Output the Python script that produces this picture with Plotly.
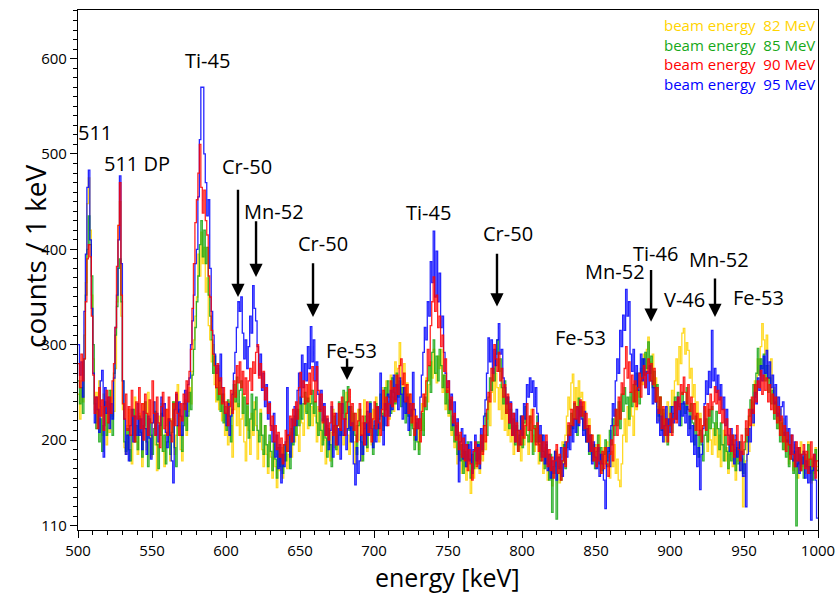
import plotly.graph_objects as go

# ---------------- data (counts per 1 keV bin, bins start at 500 keV) ----------------
E0 = 500

counts_82 = [
    248, 222, 262, 240, 310, 365, 448, 475, 420, 352,
    285, 232, 250, 218, 262, 235, 205, 248, 228, 195,
    240, 208, 252, 225, 230, 275, 345, 425, 450, 330,
    232, 192, 185, 215, 232, 190, 175, 222, 245, 198,
    185, 228, 205, 172, 238, 212, 190, 250, 205, 182,
    218, 240, 195, 168, 225, 205, 238, 188, 172, 215,
    232, 198, 178, 222, 240, 185, 205, 258, 215, 190,
    178, 225, 242, 205, 230, 255, 238, 272, 305, 330,
    350, 395, 372, 418, 385, 402, 355, 370, 320, 305,
    282, 300, 258, 240, 275, 232, 255, 220, 248, 205,
    228, 195, 240, 215, 182, 232, 250, 215, 238, 205,
    222, 248, 198, 178, 235, 210, 185, 228, 205, 240,
    215, 180, 205, 232, 190, 172, 215, 185, 165, 198,
    182, 160, 195, 172, 150, 185, 168, 192, 160, 178,
    195, 170, 185, 208, 182, 215, 198, 230, 205, 188,
    240, 218, 205, 245, 230, 212, 258, 235, 215, 240,
    225, 198, 235, 210, 188, 222, 200, 175, 215, 195,
    178, 208, 232, 192, 215, 185, 205, 238, 210, 195,
    222, 250, 205, 185, 230, 212, 198, 175, 215, 232,
    200, 178, 218, 242, 205, 188, 225, 210, 195, 232,
    212, 245, 220, 198, 238, 255, 215, 232, 262, 240,
    222, 268, 245, 230, 282, 255, 275, 302, 265, 248,
    280, 238, 260, 225, 248, 215, 238, 200, 225, 212,
    190, 222, 238, 210, 248, 265, 240, 258, 282, 265,
    295, 270, 260, 288, 275, 295, 250, 268, 232, 255,
    225, 240, 205, 218, 192, 210, 175, 198, 185, 165,
    190, 172, 158, 185, 168, 144, 178, 160, 192, 170,
    185, 165, 198, 178, 205, 190, 222, 240, 215, 250,
    262, 240, 270, 255, 232, 258, 222, 245, 210, 232,
    205, 225, 198, 215, 185, 208, 220, 190, 202, 178,
    212, 195, 225, 205, 185, 218, 232, 205, 188, 215,
    198, 175, 205, 185, 165, 192, 178, 158, 185, 170,
    152, 178, 165, 190, 172, 155, 182, 198, 175, 205,
    225, 245, 232, 260, 269, 240, 255, 232, 262, 245,
    250, 225, 240, 212, 198, 222, 190, 205, 178, 195,
    172, 188, 205, 180, 165, 192, 175, 198, 182, 160,
    188, 172, 195, 165, 180, 158, 151, 175, 205, 222,
    198, 235, 215, 245, 225, 205, 252, 232, 268, 245,
    275, 258, 290, 268, 295, 308, 282, 262, 290, 255,
    265, 235, 220, 245, 210, 228, 198, 215, 240, 205,
    220, 252, 235, 262, 285, 258, 298, 280, 312, 317,
    290, 302, 294, 265, 275, 245, 258, 222, 240, 210,
    228, 198, 215, 235, 205, 188, 222, 200, 185, 212,
    195, 218, 182, 205, 172, 195, 210, 178, 192, 165,
    185, 200, 172, 190, 158, 178, 195, 168, 182, 130,
    162, 178, 205, 188, 225, 240, 215, 262, 248, 285,
    270, 298, 322, 305, 290, 310, 278, 262, 285, 242,
    255, 228, 245, 212, 232, 205, 222, 190, 212, 198,
    175, 205, 188, 168, 195, 178, 160, 185, 198, 172,
    188, 165, 180, 198, 170, 155, 182, 165, 192, 172,
]

counts_85 = [
    262, 238, 255, 228, 285, 352, 400, 435, 405, 372,
    300, 238, 212, 232, 198, 222, 188, 215, 240, 205,
    218, 252, 228, 205, 270, 310, 340, 380, 390, 345,
    262, 198, 188, 212, 190, 178, 205, 232, 198, 215,
    190, 225, 208, 182, 215, 240, 198, 172, 222, 205,
    185, 212, 230, 195, 170, 205, 228, 188, 205, 175,
    198, 222, 185, 208, 240, 192, 172, 215, 232, 205,
    188, 215, 238, 210, 225, 250, 232, 268, 295, 318,
    345, 372, 405, 430, 392, 420, 385, 402, 352, 330,
    305, 270, 288, 255, 242, 262, 230, 248, 218, 235,
    210, 242, 225, 198, 232, 258, 240, 266, 235, 252,
    262, 228, 245, 215, 238, 202, 222, 248, 210, 232,
    245, 210, 198, 228, 205, 185, 215, 195, 172, 205,
    188, 168, 198, 180, 160, 192, 172, 185, 165, 195,
    178, 205, 188, 170, 212, 195, 225, 205, 232, 215,
    245, 222, 238, 250, 228, 244, 215, 238, 252, 228,
    240, 218, 205, 232, 210, 195, 225, 202, 182, 212,
    195, 172, 208, 225, 190, 215, 240, 205, 228, 252,
    222, 240, 256, 210, 235, 198, 228, 205, 185, 215,
    232, 198, 178, 212, 225, 192, 218, 240, 205, 185,
    215, 238, 205, 222, 248, 228, 210, 255, 232, 262,
    245, 228, 265, 250, 238, 270, 245, 262, 235, 255,
    240, 218, 248, 225, 205, 232, 212, 190, 218, 198,
    185, 210, 228, 205, 245, 232, 262, 278, 250, 292,
    305, 270, 288, 262, 295, 278, 255, 268, 238, 252,
    228, 242, 210, 225, 198, 215, 185, 205, 178, 195,
    165, 188, 172, 198, 180, 160, 185, 170, 192, 175,
    198, 180, 205, 188, 215, 228, 205, 245, 265, 252,
    275, 262, 290, 305, 272, 285, 255, 238, 262, 228,
    245, 212, 232, 205, 222, 195, 215, 188, 205, 225,
    192, 218, 235, 205, 198, 225, 210, 185, 215, 198,
    225, 195, 178, 205, 188, 170, 195, 175, 158, 185,
    124, 172, 188, 117, 165, 182, 158, 178, 195, 170,
    192, 215, 205, 228, 212, 238, 222, 205, 244, 225,
    235, 210, 228, 198, 215, 185, 205, 178, 195, 170,
    188, 205, 175, 192, 168, 185, 200, 172, 188, 210,
    195, 222, 205, 232, 215, 240, 212, 248, 230, 255,
    238, 245, 222, 250, 235, 258, 240, 270, 252, 238,
    262, 285, 268, 292, 275, 303, 270, 288, 255, 272,
    240, 258, 225, 245, 210, 232, 205, 222, 195, 215,
    235, 208, 228, 245, 222, 250, 235, 215, 250, 238,
    228, 255, 232, 212, 238, 218, 195, 225, 205, 182,
    210, 195, 178, 205, 222, 198, 232, 212, 235, 218,
    205, 230, 212, 190, 218, 195, 178, 205, 188, 170,
    195, 178, 205, 185, 168, 192, 175, 198, 180, 165,
    190, 212, 198, 225, 242, 228, 258, 245, 270, 296,
    268, 285, 275, 290, 262, 278, 250, 265, 238, 252,
    222, 240, 212, 228, 198, 218, 190, 208, 182, 200,
    172, 195, 180, 165, 188, 110, 175, 192, 168, 182,
    160, 185, 172, 195, 165, 180, 158, 178, 190, 168,
]

counts_90 = [
    280, 255, 290, 262, 285, 345, 390, 405, 392, 330,
    268, 228, 245, 212, 255, 225, 242, 210, 235, 252,
    218, 245, 228, 262, 280, 318, 382, 425, 470, 352,
    238, 222, 248, 210, 235, 205, 252, 225, 198, 240,
    222, 255, 212, 238, 200, 248, 228, 205, 242, 218,
    262, 228, 205, 245, 218, 192, 235, 250, 212, 232,
    205, 245, 220, 198, 238, 215, 250, 228, 205, 238,
    220, 248, 232, 262, 240, 272, 295, 338, 385, 428,
    452, 480, 510, 465, 438, 462, 430, 415, 372, 350,
    315, 290, 278, 255, 280, 248, 265, 238, 255, 228,
    240, 215, 235, 252, 228, 262, 245, 278, 260, 282,
    255, 272, 248, 265, 238, 262, 275, 252, 282, 270,
    292, 300, 265, 280, 255, 272, 242, 255, 228, 238,
    210, 225, 198, 215, 190, 208, 182, 202, 175, 195,
    210, 188, 205, 225, 198, 232, 215, 240, 222, 255,
    271, 245, 262, 238, 258, 240, 270, 248, 277, 262,
    240, 277, 252, 230, 248, 218, 235, 205, 225, 200,
    218, 240, 205, 228, 195, 215, 238, 210, 245, 222,
    205, 228, 240, 253, 215, 238, 210, 228, 198, 220,
    238, 205, 225, 195, 218, 240, 208, 228, 198, 222,
    240, 212, 235, 218, 205, 232, 252, 225, 245, 215,
    238, 262, 235, 255, 240, 268, 248, 278, 285, 258,
    270, 240, 258, 228, 248, 218, 238, 205, 225, 212,
    222, 198, 230, 248, 235, 262, 295, 278, 320, 345,
    371, 335, 352, 318, 330, 298, 310, 272, 285, 250,
    262, 232, 245, 218, 228, 200, 218, 190, 208, 182,
    202, 178, 195, 168, 190, 175, 158, 188, 198, 172,
    192, 175, 205, 185, 215, 198, 232, 250, 240, 275,
    262, 300, 285, 272, 292, 262, 275, 245, 258, 228,
    248, 218, 238, 205, 228, 198, 218, 188, 210, 195,
    225, 202, 215, 238, 210, 225, 198, 232, 212, 195,
    218, 188, 205, 178, 198, 182, 205, 172, 190, 168,
    182, 160, 178, 195, 165, 185, 158, 178, 192, 172,
    198, 218, 205, 232, 215, 240, 222, 235, 218, 242,
    225, 240, 212, 228, 198, 215, 188, 205, 178, 192,
    172, 195, 178, 165, 188, 170, 192, 175, 162, 185,
    200, 178, 215, 232, 205, 245, 222, 260, 248, 275,
    298, 265, 282, 250, 268, 240, 262, 235, 255, 270,
    245, 265, 278, 255, 270, 285, 262, 280, 258, 275,
    240, 255, 228, 245, 212, 235, 205, 222, 198, 215,
    228, 205, 222, 240, 218, 245, 232, 258, 248, 266,
    250, 238, 258, 230, 245, 222, 238, 210, 228, 205,
    222, 198, 215, 235, 210, 238, 225, 248, 232, 240,
    256, 238, 252, 228, 245, 218, 232, 205, 222, 195,
    212, 188, 205, 182, 200, 215, 190, 178, 205, 185,
    198, 220, 205, 232, 215, 245, 228, 258, 240, 262,
    255, 273, 248, 268, 252, 265, 240, 258, 232, 248,
    228, 245, 218, 235, 205, 225, 198, 215, 188, 208,
    195, 180, 205, 185, 172, 198, 178, 192, 168, 185,
    195, 170, 188, 165, 180, 198, 172, 185, 160, 178,
]

counts_95 = [
    300, 268, 282, 245, 335, 395, 465, 483, 410, 338,
    270, 218, 245, 232, 208, 262, 273, 182, 255, 228,
    245, 212, 238, 222, 265, 318, 352, 410, 477, 385,
    262, 222, 185, 205, 178, 215, 232, 198, 225, 205,
    238, 205, 222, 190, 230, 212, 185, 225, 202, 180,
    218, 240, 205, 228, 198, 215, 245, 225, 238, 208,
    192, 222, 205, 178, 155, 232, 248, 215, 240, 225,
    205, 238, 252, 225, 258, 265, 300, 325, 352, 385,
    400, 455, 515, 570, 570, 500, 470, 435, 452, 380,
    335, 310, 290, 270, 278, 262, 290, 255, 240, 228,
    215, 238, 205, 225, 248, 270, 292, 318, 345, 335,
    350, 312, 285, 305, 275, 298, 330, 312, 362, 338,
    325, 298, 268, 290, 252, 270, 235, 258, 222, 240,
    215, 198, 228, 182, 205, 170, 195, 155, 185, 172,
    198, 255, 205, 182, 222, 198, 235, 215, 252, 270,
    238, 289, 255, 280, 262, 298, 275, 319, 282, 305,
    262, 282, 248, 232, 252, 220, 238, 205, 222, 190,
    210, 235, 182, 215, 228, 195, 212, 180, 238, 205,
    222, 190, 212, 235, 198, 218, 175, 153, 192, 165,
    178, 205, 185, 218, 195, 230, 205, 238, 212, 192,
    220, 198, 235, 212, 270, 225, 195, 238, 215, 248,
    225, 252, 232, 268, 242, 258, 232, 265, 248, 222,
    255, 228, 245, 210, 238, 225, 271, 232, 200, 222,
    212, 245, 268, 292, 318, 305, 345, 330, 387, 365,
    419, 350, 398, 345, 375, 318, 330, 292, 270, 255,
    262, 232, 248, 215, 240, 205, 222, 156, 198, 212,
    180, 205, 172, 195, 178, 198, 165, 190, 205, 178,
    195, 170, 212, 190, 225, 242, 270, 307, 282, 305,
    270, 295, 278, 305, 322, 290, 295, 265, 255, 238,
    245, 218, 240, 205, 228, 198, 232, 210, 195, 225,
    205, 238, 222, 258, 245, 265, 250, 262, 235, 255,
    228, 198, 215, 182, 205, 175, 198, 168, 185, 160,
    178, 165, 188, 158, 182, 170, 192, 162, 175, 198,
    182, 205, 190, 215, 198, 222, 208, 235, 215, 240,
    222, 205, 230, 198, 212, 188, 205, 175, 198, 182,
    170, 192, 162, 185, 175, 158, 128, 178, 192, 172,
    215, 238, 225, 262, 285, 270, 315, 298, 331, 315,
    358, 330, 345, 290, 272, 295, 258, 278, 252, 270,
    290, 262, 285, 255, 272, 248, 278, 262, 238, 255,
    240, 218, 232, 205, 225, 198, 215, 235, 205, 222,
    208, 235, 218, 240, 222, 245, 215, 238, 225, 240,
    218, 235, 205, 225, 198, 215, 185, 205, 172, 192,
    148, 185, 212, 238, 262, 248, 272, 255, 315, 262,
    275, 250, 268, 242, 258, 232, 245, 215, 232, 205,
    188, 212, 195, 175, 205, 182, 198, 168, 188, 162,
    175, 130, 185, 212, 198, 232, 218, 250, 238, 265,
    252, 278, 262, 288, 270, 294, 265, 282, 255, 268,
    238, 258, 225, 245, 220, 235, 240, 205, 225, 198,
    212, 185, 205, 178, 198, 172, 192, 165, 185, 175,
    188, 160, 178, 155, 172, 116, 168, 185, 158, 118,
]

series_labels = ["82 MeV", "85 MeV", "90 MeV", "95 MeV"]
series_colors = ["#FFD400", "#17A817", "#FF0000", "#0000FF"]

# peak labels: (text, energy, counts)
peak_labels = [
    ("511", 511.5, 522), ("511 DP", 540.0, 490), ("Ti-45", 587.2, 598),
    ("Cr-50", 614.2, 487), ("Mn-52", 632.4, 440), ("Cr-50", 665.5, 406),
    ("Fe-53", 684.5, 294), ("Ti-45", 736.5, 439), ("Cr-50", 790.5, 417),
    ("Fe-53", 839.2, 308), ("Mn-52", 862.8, 377), ("Ti-46", 889.9, 396),
    ("V-46", 910.1, 347), ("Mn-52", 933.1, 389), ("Fe-53", 960.1, 349),
]
# arrows: (energy, counts at tail, counts at tip)
arrows = [
    (608.1, 464, 350), (620.3, 431, 371), (658.8, 387, 329), (681.8, 287, 263),
    (783.1, 397, 340), (887.2, 380, 324), (930.4, 371, 329),
]

# ---------------- figure ----------------
fig = go.Figure()
all_series = [counts_82, counts_85, counts_90, counts_95]
order = [0, 1, 3, 2]
for k in order:
    vals = all_series[k]
    xs = [E0 + i for i in range(len(vals) + 1)]
    ys = list(vals) + [vals[-1]]
    fig.add_trace(go.Scatter(
        x=xs, y=ys, mode="lines", line=dict(color=series_colors[k], width=1.3, shape="hv"),
        opacity=0.85, showlegend=False, hoverinfo="skip"))

ann = []
font_main = "Open Sans, Liberation Sans, sans-serif"
for txt, ex, cy in peak_labels:
    ann.append(dict(x=ex, y=cy, xref="x", yref="y", text=txt, showarrow=False,
                    font=dict(family=font_main, size=20, color="black"),
                    xanchor="center", yanchor="middle"))
for ex, y0, y1 in arrows:
    ann.append(dict(x=ex, y=y1, ax=ex, ay=y0, xref="x", yref="y", axref="x", ayref="y",
                    text="", showarrow=True, arrowhead=2, arrowsize=1.1, arrowwidth=2.4,
                    arrowcolor="black"))

# legend block (one multi-line text, each line in its series colour)
legend_lines = ["<span style='color:%s'>beam energy\u00a0\u00a0%s</span>" % (series_colors[k], series_labels[k])
                for k in range(4)]
ann.append(dict(x=1.0, y=(530 - 54) / 520.0, xref="paper", yref="paper",
                text="<br>".join(legend_lines), showarrow=False, align="right",
                xanchor="right", yanchor="middle", xshift=-1,
                font=dict(family=font_main, size=15, color="black")))

ann.append(dict(x=(447 - 78) / 740.0, y=(530 - 576.5) / 520.0, xref="paper", yref="paper",
                text="energy [keV]", showarrow=False, xanchor="center", yanchor="middle",
                font=dict(family=font_main, size=25, color="black")))
ann.append(dict(x=(35 - 78) / 740.0, y=(530 - 257) / 520.0, xref="paper", yref="paper",
                text="counts / 1 keV", showarrow=False, xanchor="center", yanchor="middle",
                textangle=-90, font=dict(family=font_main, size=28, color="black")))

fig.update_layout(
    width=837, height=593,
    margin=dict(l=78, r=19, t=10, b=63),
    paper_bgcolor="white", plot_bgcolor="white",
    annotations=ann,
    showlegend=False,
)
fig.update_xaxes(
    range=[500, 1000], tickmode="linear", tick0=500, dtick=50, automargin=False,
    ticks="outside", ticklen=7, tickwidth=1, tickcolor="black",
    showline=True, linecolor="black", linewidth=1.2, mirror=True,
    showgrid=False, zeroline=False,
    tickfont=dict(family=font_main, size=15, color="black"),
    minor=dict(dtick=10, tick0=500, ticks="outside", ticklen=4, tickcolor="black", showgrid=False),
)
fig.update_yaxes(
    range=[105.6, 651], tickmode="array", tickvals=[110, 200, 300, 400, 500, 600], automargin=False,
    ticks="outside", ticklen=7, tickwidth=1, tickcolor="black",
    showline=True, linecolor="black", linewidth=1.2, mirror=True,
    showgrid=False, zeroline=False,
    tickfont=dict(family=font_main, size=15, color="black"),
    minor=dict(dtick=10, tick0=0, ticks="outside", ticklen=4, tickcolor="black", showgrid=False),
)

fig.write_html("out.html")
